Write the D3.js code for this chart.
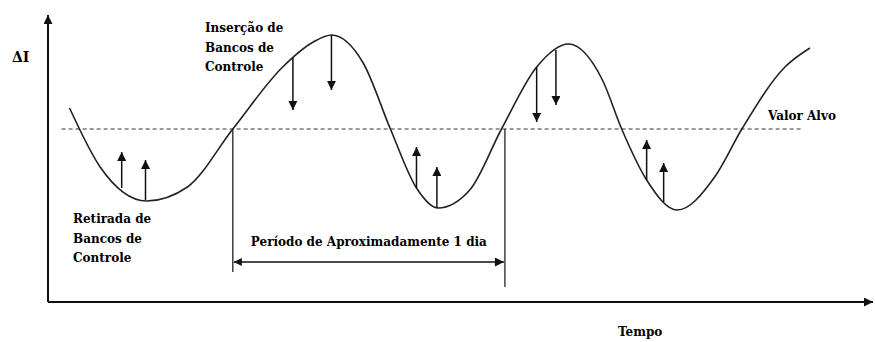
<!DOCTYPE html>
<html>
<head>
<meta charset="utf-8">
<script src="https://cdn.jsdelivr.net/npm/d3@7"></script>
<style>
  body { margin: 0; background: #fff; }
  svg text { font-family: "DejaVu Serif", "Liberation Serif", serif; font-weight: bold; }
</style>
</head>
<body>
<div id="chart"></div>
<script>
// Curve of ΔI over time (hours)
const curveTime = [1.9, 4.6, 8.7, 12.3, 16.3, 20.7, 23.4, 25.0, 27.8, 30.2, 32.5, 34.4,
    37.2, 40.0, 43.1, 45.9, 48.9, 50.6, 52.8, 55.5, 58.8, 61.2, 65.0, 67.2];
const curveDeltaI = [2.1, -3.8, -7.2, -5.8, 0.0, 6.2, 8.7, 9.4, 6.6, 0.0, -5.9, -7.9,
    -6.1, 0.0, 6.2, 8.5, 4.9, 0.0, -5.1, -8.1, -4.8, 0.0, 6.2, 8.1];

// Control bank arrows: time, ΔI at the curve, ΔI at the tip
const arrowTime = [6.5, 8.6, 21.6, 25.0, 32.5, 34.3, 43.1, 44.8, 52.8, 54.3];
const arrowFrom = [-5.9, -7.1, 7.1, 9.4, -5.9, -7.9, 6.2, 7.9, -5.1, -7.3];
const arrowTo   = [-2.3, -3.1, 1.9, 3.9, -1.8, -3.8, 0.7, 2.4, -1.1, -3.4];

// Target value line and the one-day period
const targetValue = 0;
const targetSpan = [1.2, 66.6];
const periodSpan = [16.3, 40.3];
const periodLineEnd = [-14.3, -15.8];
const periodArrowLevel = -13.3;

// Texts
const yLabel = "ΔI";
const xLabel = "Tempo";
const targetLabel = "Valor Alvo";
const periodLabel = "Período de Aproximadamente 1 dia";
const insertLabel = ["Inserção de", "Bancos de", "Controle"];
const removeLabel = ["Retirada de", "Bancos de", "Controle"];

const timeDomain = [0, 72.5];
const deltaDomain = [-17.3, 11.4];

var width = 875, height = 342;

var svg = d3.select("#chart")
    .append("svg")
    .attr("width", width)
    .attr("height", height);

var x = d3.scaleLinear().domain(timeDomain).range([48, 870]);
var y = d3.scaleLinear().domain(deltaDomain).range([302, 15]);

// arrow heads
var defs = svg.append("defs");
defs.append("marker")
    .attr("id", "head")
    .attr("markerUnits", "userSpaceOnUse")
    .attr("viewBox", "0 0 10 10")
    .attr("refX", 10).attr("refY", 5)
    .attr("markerWidth", 11).attr("markerHeight", 9)
    .attr("orient", "auto")
    .append("path")
    .attr("d", "M0,0L10,5L0,10Z")
    .attr("fill", "#111");
defs.append("marker")
    .attr("id", "headStart")
    .attr("markerUnits", "userSpaceOnUse")
    .attr("viewBox", "0 0 10 10")
    .attr("refX", 0).attr("refY", 5)
    .attr("markerWidth", 11).attr("markerHeight", 8)
    .attr("orient", "auto")
    .append("path")
    .attr("d", "M10,0L0,5L10,10Z")
    .attr("fill", "#111");

// axes (no ticks, only arrows)
svg.append("line")
    .attr("x1", x(0)).attr("y1", y(deltaDomain[0]))
    .attr("x2", x(0)).attr("y2", y(deltaDomain[1]))
    .attr("stroke", "#111").attr("stroke-width", 2)
    .attr("marker-end", "url(#head)");
svg.append("line")
    .attr("x1", x(0)).attr("y1", y(deltaDomain[0]))
    .attr("x2", x(timeDomain[1]) + 3).attr("y2", y(deltaDomain[0]))
    .attr("stroke", "#111").attr("stroke-width", 2)
    .attr("marker-end", "url(#head)");

// target value dashed line
svg.append("line")
    .attr("x1", x(targetSpan[0])).attr("x2", x(targetSpan[1]))
    .attr("y1", y(targetValue)).attr("y2", y(targetValue))
    .attr("stroke", "#333").attr("stroke-width", 1.2)
    .attr("stroke-dasharray", "4,3");

// ΔI curve
var curveData = curveTime.map((t, i) => ({t: t, v: curveDeltaI[i]}));
var line = d3.line()
    .x(d => x(d.t))
    .y(d => y(d.v))
    .curve(d3.curveMonotoneX);
svg.append("path")
    .datum(curveData)
    .attr("d", line)
    .attr("fill", "none")
    .attr("stroke", "#222")
    .attr("stroke-width", 1.6);

// control bank arrows
var arrowData = arrowTime.map((t, i) => ({t: t, from: arrowFrom[i], to: arrowTo[i]}));
svg.selectAll(".bank-arrow")
    .data(arrowData)
    .join("line")
    .attr("class", "bank-arrow")
    .attr("x1", d => x(d.t)).attr("x2", d => x(d.t))
    .attr("y1", d => y(d.from)).attr("y2", d => y(d.to))
    .attr("stroke", "#111").attr("stroke-width", 1.5)
    .attr("marker-end", "url(#head)");

// one-day period markers
svg.selectAll(".period-line")
    .data(periodSpan)
    .join("line")
    .attr("class", "period-line")
    .attr("x1", d => x(d)).attr("x2", d => x(d))
    .attr("y1", y(targetValue))
    .attr("y2", (d, i) => y(periodLineEnd[i]))
    .attr("stroke", "#222").attr("stroke-width", 1.3);
svg.append("line")
    .attr("x1", x(periodSpan[0]) + 1).attr("x2", x(periodSpan[1]) - 1)
    .attr("y1", y(periodArrowLevel)).attr("y2", y(periodArrowLevel))
    .attr("stroke", "#111").attr("stroke-width", 1.5)
    .attr("marker-start", "url(#headStart)")
    .attr("marker-end", "url(#head)");

// texts
svg.append("text")
    .attr("x", 12).attr("y", 62)
    .style("font-size", "14px")
    .text(yLabel);
svg.append("text")
    .attr("x", 618).attr("y", 336)
    .style("font-size", "12px")
    .text(xLabel);
svg.append("text")
    .attr("x", 768).attr("y", 120)
    .style("font-size", "12px")
    .text(targetLabel);
svg.append("text")
    .attr("x", (x(periodSpan[0]) + x(periodSpan[1])) / 2).attr("y", 246)
    .attr("text-anchor", "middle")
    .style("font-size", "12px")
    .text(periodLabel);

svg.selectAll(".insert-label")
    .data(insertLabel)
    .join("text")
    .attr("class", "insert-label")
    .attr("x", 205)
    .attr("y", (d, i) => 32 + i * 19.5)
    .style("font-size", "12px")
    .text(d => d);

svg.selectAll(".remove-label")
    .data(removeLabel)
    .join("text")
    .attr("class", "remove-label")
    .attr("x", 73)
    .attr("y", (d, i) => 223 + i * 19.5)
    .style("font-size", "12px")
    .text(d => d);
</script>
</body>
</html>
